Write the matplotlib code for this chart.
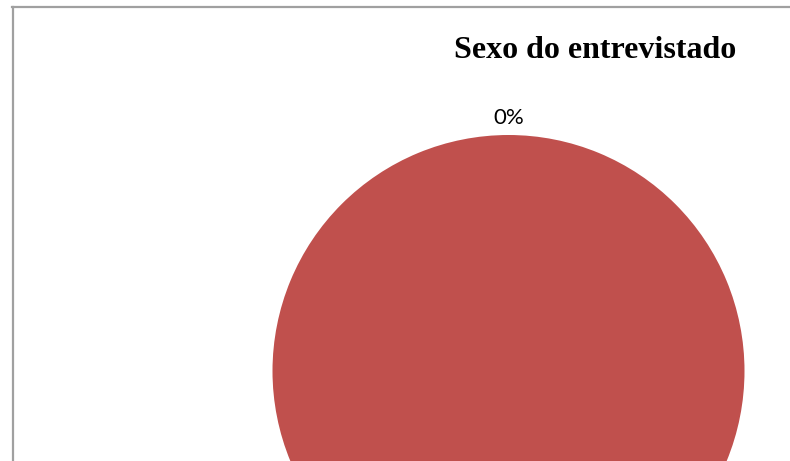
import matplotlib
matplotlib.use("Agg")
import matplotlib.pyplot as plt
from matplotlib.lines import Line2D

categories = ["Masculino", "Feminino"]
values = [0, 100]
colors = ["#4F81BD", "#C0504D"]
title = "Sexo do entrevistado"

W, H = 790, 461
fig = plt.figure(figsize=(W / 100, H / 100), dpi=100)
ax = fig.add_axes([0, 0, 1, 1])

cx, cy, r = 508.5, 371, 236
wedges, texts, autotexts = ax.pie(
    values, colors=colors, startangle=90, counterclock=False,
    autopct=lambda p: f"{p:.0f}%", pctdistance=1.072, radius=1,
    textprops=dict(fontsize=16, family="Lato", color="black"),
    wedgeprops=dict(linewidth=0),
)
autotexts[1].set_visible(False)
ax.set_xlim(-cx / r, (W - cx) / r)
ax.set_ylim(-(H - cy) / r, cy / r)
ax.set_aspect("auto")
ax.axis("off")

fig.text(595.5 / W, 1 - 51 / H, title, ha="center", va="center",
         fontsize=23, fontweight="bold", family="Liberation Serif")

fig.add_artist(Line2D([12.5 / W, 12.5 / W], [0, 1 - 7 / H], transform=fig.transFigure,
                      color="#a0a0a0", lw=1.6))
fig.add_artist(Line2D([12 / W, 1], [1 - 7 / H, 1 - 7 / H], transform=fig.transFigure,
                      color="#a0a0a0", lw=1.6))

fig.savefig("out.png", dpi=100)
